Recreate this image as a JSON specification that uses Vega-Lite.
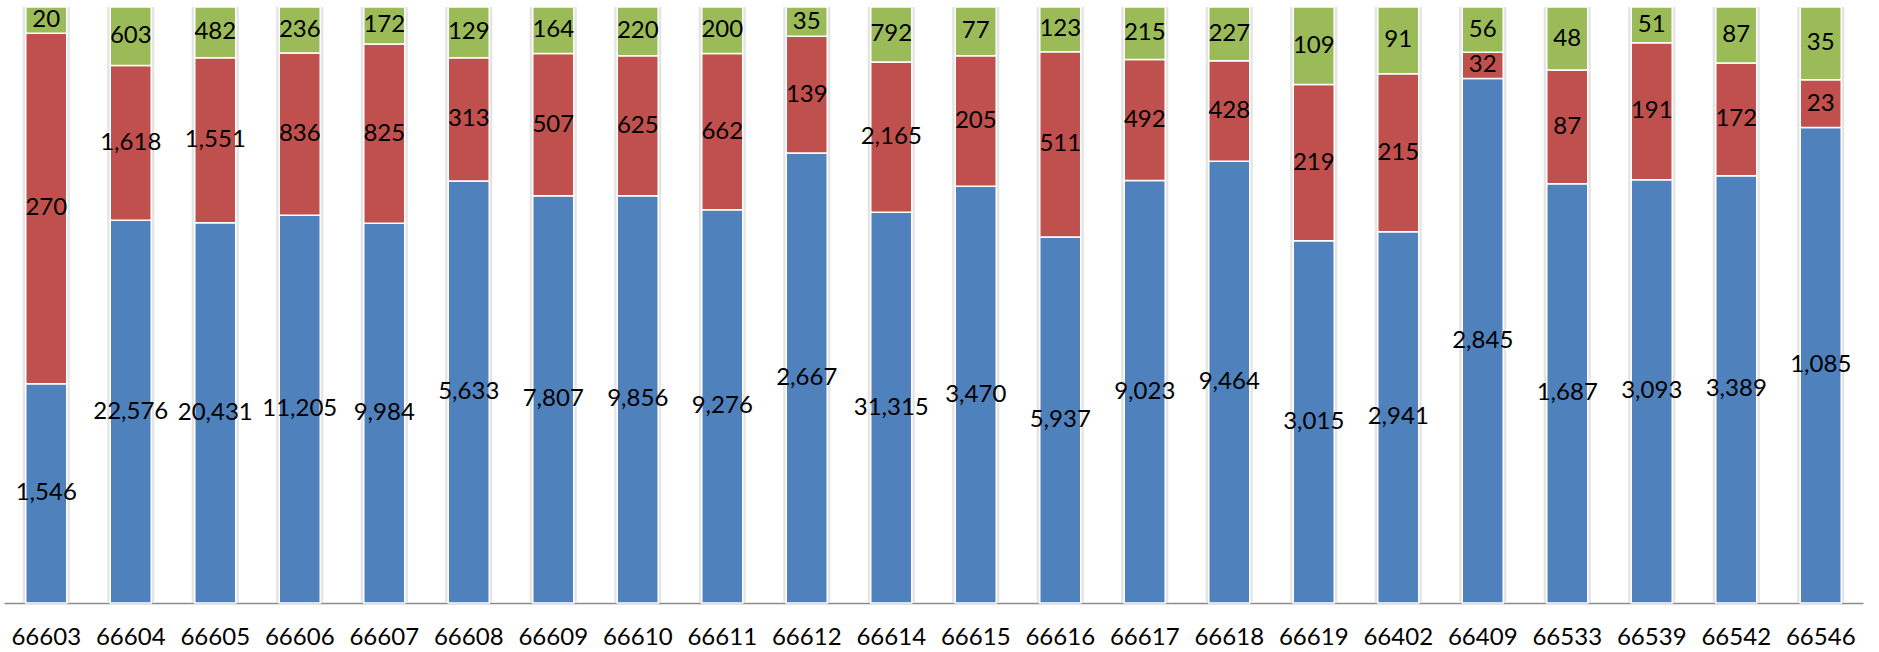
{
  "$schema": "https://vega.github.io/schema/vega-lite/v6.json",
  "width": 1859,
  "height": 596,
  "autosize": "none",
  "padding": {"left": 4, "top": 7, "right": 16, "bottom": 49},
  "config": {"view": {"stroke": null}, "font": "Lato"},
  "data": {
    "values": [
      {"code": "66603", "series": "S1", "pct": 36.8, "value": 1546},
      {"code": "66603", "series": "S2", "pct": 58.8, "value": 270},
      {"code": "66603", "series": "S3", "pct": 4.4, "value": 20},
      {"code": "66604", "series": "S1", "pct": 64.2, "value": 22576},
      {"code": "66604", "series": "S2", "pct": 26.0, "value": 1618},
      {"code": "66604", "series": "S3", "pct": 9.8, "value": 603},
      {"code": "66605", "series": "S1", "pct": 63.8, "value": 20431},
      {"code": "66605", "series": "S2", "pct": 27.7, "value": 1551},
      {"code": "66605", "series": "S3", "pct": 8.5, "value": 482},
      {"code": "66606", "series": "S1", "pct": 65.0, "value": 11205},
      {"code": "66606", "series": "S2", "pct": 27.2, "value": 836},
      {"code": "66606", "series": "S3", "pct": 7.7, "value": 236},
      {"code": "66607", "series": "S1", "pct": 63.7, "value": 9984},
      {"code": "66607", "series": "S2", "pct": 30.1, "value": 825},
      {"code": "66607", "series": "S3", "pct": 6.2, "value": 172},
      {"code": "66608", "series": "S1", "pct": 70.8, "value": 5633},
      {"code": "66608", "series": "S2", "pct": 20.7, "value": 313},
      {"code": "66608", "series": "S3", "pct": 8.5, "value": 129},
      {"code": "66609", "series": "S1", "pct": 68.4, "value": 7807},
      {"code": "66609", "series": "S2", "pct": 23.9, "value": 507},
      {"code": "66609", "series": "S3", "pct": 7.8, "value": 164},
      {"code": "66610", "series": "S1", "pct": 68.4, "value": 9856},
      {"code": "66610", "series": "S2", "pct": 23.5, "value": 625},
      {"code": "66610", "series": "S3", "pct": 8.2, "value": 220},
      {"code": "66611", "series": "S1", "pct": 66.0, "value": 9276},
      {"code": "66611", "series": "S2", "pct": 26.2, "value": 662},
      {"code": "66611", "series": "S3", "pct": 7.8, "value": 200},
      {"code": "66612", "series": "S1", "pct": 75.5, "value": 2667},
      {"code": "66612", "series": "S2", "pct": 19.6, "value": 139},
      {"code": "66612", "series": "S3", "pct": 4.9, "value": 35},
      {"code": "66614", "series": "S1", "pct": 65.5, "value": 31315},
      {"code": "66614", "series": "S2", "pct": 25.2, "value": 2165},
      {"code": "66614", "series": "S3", "pct": 9.2, "value": 792},
      {"code": "66615", "series": "S1", "pct": 70.0, "value": 3470},
      {"code": "66615", "series": "S2", "pct": 21.9, "value": 205},
      {"code": "66615", "series": "S3", "pct": 8.2, "value": 77},
      {"code": "66616", "series": "S1", "pct": 61.4, "value": 5937},
      {"code": "66616", "series": "S2", "pct": 31.1, "value": 511},
      {"code": "66616", "series": "S3", "pct": 7.5, "value": 123},
      {"code": "66617", "series": "S1", "pct": 70.9, "value": 9023},
      {"code": "66617", "series": "S2", "pct": 20.3, "value": 492},
      {"code": "66617", "series": "S3", "pct": 8.8, "value": 215},
      {"code": "66618", "series": "S1", "pct": 74.1, "value": 9464},
      {"code": "66618", "series": "S2", "pct": 16.9, "value": 428},
      {"code": "66618", "series": "S3", "pct": 9.0, "value": 227},
      {"code": "66619", "series": "S1", "pct": 60.8, "value": 3015},
      {"code": "66619", "series": "S2", "pct": 26.2, "value": 219},
      {"code": "66619", "series": "S3", "pct": 13.0, "value": 109},
      {"code": "66402", "series": "S1", "pct": 62.3, "value": 2941},
      {"code": "66402", "series": "S2", "pct": 26.5, "value": 215},
      {"code": "66402", "series": "S3", "pct": 11.2, "value": 91},
      {"code": "66409", "series": "S1", "pct": 88.0, "value": 2845},
      {"code": "66409", "series": "S2", "pct": 4.4, "value": 32},
      {"code": "66409", "series": "S3", "pct": 7.6, "value": 56},
      {"code": "66533", "series": "S1", "pct": 70.4, "value": 1687},
      {"code": "66533", "series": "S2", "pct": 19.1, "value": 87},
      {"code": "66533", "series": "S3", "pct": 10.6, "value": 48},
      {"code": "66539", "series": "S1", "pct": 71.0, "value": 3093},
      {"code": "66539", "series": "S2", "pct": 23.0, "value": 191},
      {"code": "66539", "series": "S3", "pct": 6.0, "value": 51},
      {"code": "66542", "series": "S1", "pct": 71.6, "value": 3389},
      {"code": "66542", "series": "S2", "pct": 18.9, "value": 172},
      {"code": "66542", "series": "S3", "pct": 9.4, "value": 87},
      {"code": "66546", "series": "S1", "pct": 79.7, "value": 1085},
      {"code": "66546", "series": "S2", "pct": 8.0, "value": 23},
      {"code": "66546", "series": "S3", "pct": 12.2, "value": 35}
    ]
  },
  "transform": [
    {"stack": "pct", "groupby": ["code"], "sort": [{"field": "series", "order": "ascending"}], "offset": "normalize", "as": ["y0", "y1"]},
    {"calculate": "(datum.y0 + datum.y1) / 2", "as": "ymid"}
  ],
  "encoding": {
    "x": {
      "field": "code",
      "type": "nominal",
      "sort": null,
      "scale": {"paddingInner": 0.515, "paddingOuter": 0.2575},
      "axis": {
        "title": null,
        "labelAngle": 0,
        "labelFont": "Lato",
        "labelFontSize": 24,
        "labelColor": "#000000",
        "ticks": false,
        "domainColor": "#8c8c8c",
        "domainWidth": 1.5,
        "labelPadding": 22
      }
    }
  },
  "layer": [
    {
      "mark": {"type": "bar", "color": "#e4e4e4", "width": {"band": 1.15}},
      "encoding": {
        "y": {"field": "y1", "type": "quantitative", "scale": {"domain": [0, 1], "nice": false, "zero": true}, "axis": null},
        "y2": {"field": "y0"}
      }
    },
    {
      "mark": {"type": "bar", "stroke": "#ffffff", "strokeWidth": 1.5},
      "encoding": {
        "y": {"field": "y1", "type": "quantitative", "axis": null},
        "y2": {"field": "y0"},
        "color": {
          "field": "series",
          "type": "nominal",
          "scale": {"domain": ["S1", "S2", "S3"], "range": ["#4F81BD", "#C0504D", "#9BBB59"]},
          "legend": null
        }
      }
    },
    {
      "mark": {"type": "text", "font": "Lato", "fontSize": 24, "color": "#000000", "baseline": "middle"},
      "encoding": {
        "y": {"field": "ymid", "type": "quantitative", "axis": null},
        "text": {"field": "value", "type": "quantitative", "format": ",d"}
      }
    }
  ]
}
